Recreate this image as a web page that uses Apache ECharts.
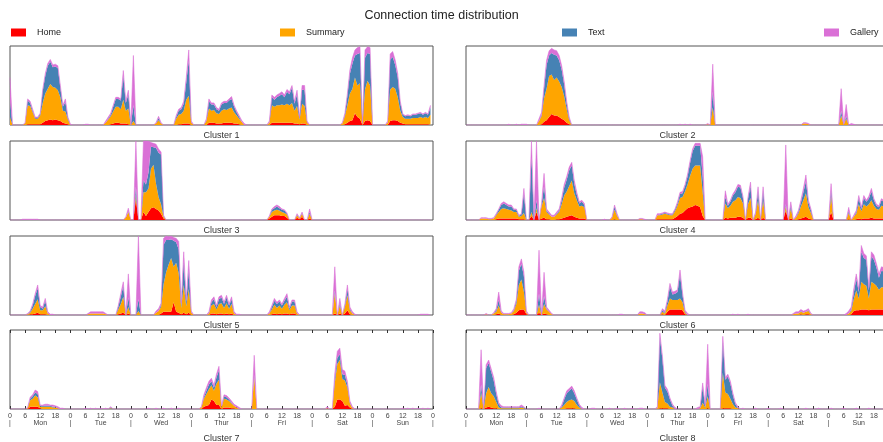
<!DOCTYPE html>
<html>
<head>
<meta charset="utf-8">
<title>Connection time distribution</title>
<script src="https://cdn.jsdelivr.net/npm/echarts/dist/echarts.min.js"></script>
<style>
  html, body { margin: 0; padding: 0; background: #fff; }
  #chart { width: 883px; height: 442px; }
</style>
</head>
<body>
<div id="chart"></div>
<script>
// one value per hour of the week (Mon 0h .. Sun 23h), 0-100 = share of panel height
var QUIET = [0,0,0,0,0,0, 0,0,0,0,0,0, 0,0,0,0,0,0, 0,0,0,0,0,0];

var days = ['Mon', 'Tue', 'Wed', 'Thur', 'Fri', 'Sat', 'Sun'];
var hourLabels = ['0', '6', '12', '18'];
var seriesNames = ['Home', 'Summary', 'Text', 'Gallery'];
var seriesColors = ['#ff0000', '#ffa500', '#4682b4', '#da70d6'];
var clusterNames = ['Cluster 1', 'Cluster 2', 'Cluster 3', 'Cluster 4', 'Cluster 5', 'Cluster 6', 'Cluster 7', 'Cluster 8'];

// ---- Cluster 1
var c1Home = [
  0,0,0,0,0,0, 0,1,1,1,1,1, 1,3,5,6,7,6, 7,6,5,3,2,1,
  0,0,0,0,0,0, 0,0,0,0,0,0, 0,0,0,0,1,2, 3,3,2,2,2,1,
  0,0,0,0,0,0, 0,0,0,0,0,0, 0,0,0,0,0,0, 0,1,1,2,2,2,
  0,0,0,0,0,0, 0,3,3,3,2,2, 2,3,3,3,3,2, 2,1,0,0,0,0,
  0,0,0,0,0,0, 0,0,3,3,3,3, 3,3,3,3,3,2, 2,1,2,2,0,0,
  0,0,0,0,0,0, 0,0,0,0,0,0, 0,1,3,5,6,15, 10,8,0,5,6,5,
  0,0,0,0,0,0, 0,5,6,6,5,3, 2,1,1,1,1,1, 1,1,1,1,1,1
];
var c1Summary = [
  10,0,0,0,0,0, 2,24,23,15,7,7, 11,25,35,40,45,42, 40,38,30,15,15,6,
  0,0,0,0,0,0, 0,0,0,0,0,0, 0,0,3,7,10,15, 20,20,18,30,16,20,
  0,5,0,0,0,0, 0,0,0,0,2,6, 2,0,0,0,0,0, 8,12,13,16,30,35,
  3,0,0,0,0,0, 5,18,15,16,13,12, 16,17,16,18,19,14, 10,7,4,0,0,0,
  0,0,0,0,0,0, 0,3,22,20,22,22, 23,22,24,22,25,16, 22,6,25,22,3,0,
  0,0,0,0,0,0, 0,0,0,0,0,0, 2,10,22,35,40,45, 40,45,1,40,50,45,
  0,0,0,0,0,0, 3,40,42,40,30,15, 8,7,7,7,8,8, 8,9,8,9,8,12
];
var c1Text = [
  20,0,0,0,0,0, 0,6,4,2,1,1, 2,15,22,29,28,25, 27,28,12,5,12,2,
  0,0,0,0,0,0, 0,0,0,0,0,0, 0,0,0,1,2,6, 10,10,11,30,10,18,
  0,20,0,0,0,0, 0,0,0,0,0,3, 0,0,0,0,0,0, 2,5,6,9,22,45,
  0,0,0,0,0,0, 1,9,8,7,5,4, 8,8,9,10,11,7, 4,2,0,0,0,0,
  0,0,0,0,0,0, 0,0,10,9,10,12, 13,10,15,14,19,9, 15,2,18,20,0,0,
  0,0,0,0,0,0, 0,0,0,0,0,0, 0,2,12,25,32,28, 40,38,0,40,35,40,
  0,0,0,0,0,0, 0,38,38,30,25,10, 3,3,4,3,4,4, 5,5,4,5,4,9
];
var c1Gallery = [
  30,0,0,0,0,0, 1,2,2,2,1,1, 1,2,3,3,3,3, 3,3,3,2,4,1,
  1,0,0,0,0,0, 1,1,0,0,0,0, 0,0,2,2,2,2, 2,2,2,7,2,5,
  0,63,0,0,0,0, 0,0,0,0,1,2, 1,0,0,0,0,0, 2,2,2,3,6,13,
  2,0,0,0,0,0, 2,3,2,2,2,2, 2,2,2,2,3,2, 2,2,2,2,0,0,
  0,0,0,0,0,0, 0,2,3,3,3,3, 3,3,3,3,3,3, 5,1,5,6,2,0,
  0,0,0,0,0,0, 0,0,0,0,0,0, 1,2,3,5,7,7, 8,8,1,10,8,8,
  0,0,0,0,0,0, 2,7,7,6,5,2, 1,1,1,1,1,1, 1,1,1,1,1,3
];

// ---- Cluster 2
var c2Home = [
  ...QUIET,
  0,0,0,0,0,0, 1,4,6,10,14,12, 12,10,8,6,3,1, 0,0,0,0,0,0,
  ...QUIET, ...QUIET, ...QUIET, ...QUIET, ...QUIET
];
var c2Summary = [
  ...QUIET,
  0,0,0,0,0,5, 10,30,40,52,50,45, 48,45,40,30,17,5, 0,0,0,0,0,0,
  ...QUIET, ...QUIET,
  1,0,22,0,0,0, 0,0,0,0,0,0, 0,0,0,0,0,0, 0,0,0,0,0,0,
  0,0,0,0,0,0, 0,0,0,0,0,0, 0,0,2,2,1,0, 0,0,0,0,0,0,
  0,0,0,0,0,12, 0,8,0,0,0,0, 0,0,0,0,0,0, 0,0,0,0,0,0
];
var c2Text = [
  ...QUIET,
  0,0,0,0,0,0, 2,12,30,26,27,32, 28,27,22,15,7,2, 0,0,0,0,0,0,
  ...QUIET, ...QUIET,
  0,0,20,0,0,0, 0,0,0,0,0,0, 0,0,0,0,0,0, 0,0,0,0,0,0,
  ...QUIET,
  0,0,0,0,0,6, 0,3,0,0,0,0, 0,0,0,0,0,0, 0,0,0,0,0,0
];
var c2Gallery = [
  0,0,0,0,0,0, 0,0,0,0,0,0, 0,0,0,0,0,1, 0,0,1,0,1,1,
  1,0,0,0,0,3, 3,4,6,6,6,6, 6,6,5,4,3,2, 0,0,0,0,0,0,
  ...QUIET,
  0,0,0,0,0,0, 0,0,0,0,0,0, 0,1,0,1,0,1, 0,0,0,0,0,0,
  1,0,35,0,0,0, 0,0,0,0,0,0, 0,0,0,0,0,0, 0,0,0,0,0,0,
  0,0,0,0,0,0, 0,0,0,0,0,0, 0,0,1,1,1,0, 0,0,0,0,0,0,
  0,0,0,0,0,28, 1,15,0,2,1,0, 0,0,0,0,0,0, 0,0,0,0,0,0
];

// ---- Cluster 3
var c3Home = [
  ...QUIET, ...QUIET,
  0,0,27,0,0,10, 5,10,15,16,14,12, 8,2,0,0,0,0, 0,0,0,0,0,0,
  ...QUIET,
  0,0,0,0,0,0, 0,2,4,6,6,6, 5,5,3,0,0,0, 3,1,4,0,0,2,
  ...QUIET, ...QUIET
];
var c3Summary = [
  ...QUIET,
  0,0,0,0,0,0, 0,0,0,0,0,0, 0,0,0,0,0,0, 0,0,0,0,3,10,
  0,0,5,0,0,25, 30,30,50,54,32,17, 12,2,0,0,0,0, 0,0,0,0,0,0,
  ...QUIET,
  0,0,0,0,0,0, 0,2,6,6,7,6, 5,4,4,0,0,0, 3,1,4,0,0,6,
  ...QUIET, ...QUIET
];
var c3Text = [
  ...QUIET,
  0,0,0,0,0,0, 0,0,0,0,0,0, 0,0,0,0,0,0, 0,0,0,0,0,1,
  0,0,10,0,0,15, 10,20,28,22,45,56, 63,1,0,0,0,0, 0,0,0,0,0,0,
  ...QUIET,
  0,0,0,0,0,0, 0,0,3,3,4,3, 3,3,1,0,0,0, 1,0,1,0,0,2,
  ...QUIET, ...QUIET
];
var c3Gallery = [
  0,0,0,0,0,1, 1,1,1,1,1,1, 0,0,0,0,0,0, 0,0,0,0,0,0,
  0,0,0,0,0,0, 0,0,0,0,0,0, 0,0,0,0,0,0, 0,0,0,0,1,4,
  0,0,58,0,0,50, 55,40,5,5,5,5, 3,1,0,0,0,0, 0,0,0,0,0,0,
  ...QUIET,
  0,0,0,0,0,0, 0,1,1,2,2,2, 1,1,1,0,0,0, 1,1,1,0,0,4,
  ...QUIET, ...QUIET
];

// ---- Cluster 4
var c4Home = [
  0,0,0,0,0,0, 0,0,0,0,0,0, 1,2,2,2,2,2, 2,2,2,1,1,1,
  0,0,5,0,10,0, 2,3,1,1,0,0, 1,1,2,3,4,5, 6,4,3,2,2,2,
  0,0,0,0,0,0, 0,0,0,0,0,1, 0,0,0,0,0,0, 0,0,0,0,0,0,
  0,0,0,0,1,1, 1,1,1,1,1,3, 5,8,9,12,15,16, 17,19,18,16,5,0,
  0,0,0,0,0,0, 0,3,2,3,3,3, 4,4,3,0,3,3, 0,1,3,0,3,0,
  0,0,0,0,0,0, 0,12,0,2,0,0, 1,2,3,4,2,1, 0,0,0,0,0,0,
  0,10,0,0,0,0, 0,0,1,0,0,1, 2,1,2,2,2,3, 2,2,2,2,2,2
];
var c4Summary = [
  0,0,0,0,0,0, 2,2,2,1,1,2, 5,8,12,13,12,11, 10,8,8,3,4,8,
  0,0,5,0,5,0, 15,25,9,6,4,4, 6,9,18,28,32,38, 44,30,22,15,16,14,
  0,0,0,0,0,0, 0,0,0,0,3,12, 5,0,0,0,0,0, 0,0,0,1,1,0,
  0,0,0,0,5,5, 6,7,6,5,5,8, 13,20,20,24,30,40, 48,50,51,53,30,0,
  0,0,0,0,0,0, 0,18,13,15,20,22, 25,24,18,0,17,25, 0,6,22,0,22,0,
  0,0,0,0,0,0, 0,5,0,12,0,3, 7,15,22,30,14,8, 0,0,0,0,0,0,
  0,20,0,0,0,0, 0,0,8,0,4,7, 18,10,18,15,18,22, 16,12,11,16,15,12
];
var c4Text = [
  0,0,0,0,0,0, 0,0,0,0,0,0, 1,3,5,6,5,4, 5,3,3,1,2,25,
  0,0,70,0,10,0, 2,15,2,1,0,0, 1,2,5,10,15,20, 19,12,7,4,5,3,
  0,0,0,0,0,0, 0,0,0,0,0,4, 1,0,0,0,0,0, 0,0,0,0,0,0,
  0,0,0,0,0,1, 1,1,1,1,1,2, 3,5,5,7,10,16, 22,25,25,25,20,0,
  0,0,0,0,0,0, 0,8,3,5,8,10, 13,13,7,0,7,15, 0,1,12,0,12,0,
  0,0,0,0,0,0, 0,3,0,4,0,0, 2,5,10,15,6,3, 0,0,0,0,0,0,
  0,8,0,0,0,0, 0,0,2,0,0,2, 8,3,8,6,7,11, 7,4,3,7,6,4
];
var c4Gallery = [
  0,0,0,0,0,0, 1,1,1,1,1,1, 1,1,2,2,2,2, 2,1,1,1,1,6,
  0,0,20,0,75,0, 2,16,2,2,2,2, 2,2,3,4,4,4, 4,4,3,2,2,2,
  0,0,0,0,0,0, 0,1,0,0,1,2, 2,0,0,0,0,0, 0,0,0,1,1,1,
  0,0,0,0,2,1, 1,1,1,1,1,1, 2,2,2,2,3,3, 3,3,3,3,25,0,
  0,0,0,0,0,0, 0,8,2,2,2,3, 3,3,2,0,2,5, 0,2,5,0,5,0,
  0,0,0,0,0,0, 0,75,0,5,0,2, 2,3,5,8,3,2, 0,0,0,0,0,0,
  0,8,0,0,0,0, 0,0,5,0,2,2, 3,2,3,2,3,4, 2,2,2,2,2,2
];

// ---- Cluster 5
var c5Home = [
  0,0,0,0,0,0, 0,0,1,1,2,3, 1,1,1,0,0,0, 0,0,0,0,0,0,
  0,0,0,0,0,0, 0,0,0,0,0,0, 0,0,0,0,0,0, 0,1,2,3,0,2,
  0,0,0,0,0,0, 0,0,0,0,0,0, 2,4,4,4,4,16, 4,3,1,3,1,3,
  0,0,0,0,0,0, 0,0,2,2,1,2, 2,1,2,1,2,0, 0,0,0,0,0,0,
  0,0,0,0,0,0, 0,0,1,2,1,2, 1,2,2,1,2,2, 0,0,0,0,0,0,
  0,0,0,0,0,0, 0,0,0,2,0,2, 0,2,6,1,0,0, 0,0,0,0,0,0,
  ...QUIET
];
var c5Summary = [
  0,0,0,0,0,0, 0,1,2,7,12,17, 5,5,10,2,0,0, 0,0,0,0,0,0,
  0,0,0,0,0,0, 0,1,2,2,2,2, 2,2,1,0,0,0, 0,6,12,20,0,8,
  0,0,0,5,0,0, 0,0,0,0,3,5, 8,35,50,60,68,45, 62,50,8,35,10,30,
  3,0,0,0,0,0, 0,2,10,12,6,12, 13,8,13,7,12,2, 0,0,0,0,0,0,
  0,0,0,0,0,0, 0,2,6,11,8,10, 7,11,14,5,10,10, 2,0,0,0,0,0,
  0,0,0,0,0,0, 0,0,0,25,0,10, 0,8,19,5,2,0, 0,0,0,0,0,0,
  ...QUIET
];
var c5Text = [
  0,0,0,0,0,0, 0,0,1,4,10,14, 4,2,7,0,0,0, 0,0,0,0,0,0,
  0,0,0,0,0,0, 0,0,0,0,0,0, 0,0,0,0,0,0, 0,3,9,14,0,12,
  0,0,0,15,0,0, 0,0,0,0,0,0, 3,50,41,31,24,33, 26,30,3,30,5,24,
  0,0,0,0,0,0, 0,0,4,6,3,6, 7,5,7,4,6,0, 0,0,0,0,0,0,
  0,0,0,0,0,0, 0,0,3,5,5,5, 4,5,7,2,5,5, 0,0,0,0,0,0,
  0,0,0,0,0,0, 0,0,0,4,0,3, 0,2,8,2,0,0, 0,0,0,0,0,0,
  ...QUIET
];
var c5Gallery = [
  0,0,0,0,0,0, 0,1,1,2,3,4, 2,2,3,2,1,1, 0,0,0,0,0,0,
  0,0,0,0,0,0, 0,1,2,2,2,2, 2,2,1,0,0,0, 0,2,4,5,0,30,
  0,0,0,80,0,0, 0,0,0,0,2,3, 2,8,5,4,4,4, 5,10,3,12,4,12,
  2,0,0,0,0,0, 0,2,3,3,2,3, 3,2,3,2,3,2, 1,1,0,0,0,0,
  0,0,0,0,0,0, 0,2,2,3,2,2, 2,3,4,2,2,2, 2,0,0,0,0,0,
  0,0,0,0,0,0, 0,0,0,30,0,6, 0,2,5,2,2,1, 0,0,0,0,0,0,
  0,0,0,0,0,0, 0,0,0,0,0,0, 0,0,0,0,0,0, 0,1,1,1,1,0
];

// ---- Cluster 6
var c6Home = [
  0,0,0,0,0,0, 0,0,0,0,0,0, 1,2,0,0,0,0, 0,1,3,6,7,7,
  1,0,0,0,0,3, 0,2,1,0,0,0, 0,0,0,0,0,0, 0,0,0,0,0,0,
  ...QUIET,
  0,0,0,0,0,0, 1,0,4,7,7,7, 7,7,6,1,0,0, 0,0,0,0,0,0,
  ...QUIET,
  0,0,0,0,0,0, 0,0,0,0,0,0, 0,1,0,1,1,0, 0,0,0,0,0,0,
  0,0,0,0,0,0, 0,0,0,1,5,6, 6,7,7,7,6,7, 7,7,7,7,7,7
];
var c6Summary = [
  0,0,0,0,0,0, 0,0,1,0,0,2, 3,10,3,1,1,1, 2,4,11,32,38,22,
  2,0,0,0,0,10, 0,12,6,4,1,0, 0,0,0,0,0,0, 0,0,0,0,0,0,
  0,0,0,0,0,0, 0,0,0,0,0,0, 0,0,0,0,0,0, 0,0,0,2,2,1,
  0,0,0,0,0,0, 3,2,8,14,12,12, 12,14,10,2,0,0, 0,0,0,0,0,0,
  ...QUIET,
  0,0,0,0,0,0, 0,0,0,0,1,2, 2,3,3,3,4,1, 0,0,0,0,0,0,
  0,0,0,0,0,0, 0,0,2,4,15,25, 15,35,32,30,15,35, 33,30,25,28,28,25
];
var c6Text = [
  0,0,0,0,0,0, 0,0,0,0,0,0, 2,7,0,0,0,0, 0,1,4,18,20,20,
  0,0,0,0,0,14, 0,10,1,0,0,0, 0,0,0,0,0,0, 0,0,0,0,0,0,
  ...QUIET,
  0,0,0,0,0,0, 2,1,5,15,7,8, 10,30,9,1,0,0, 0,0,0,0,0,0,
  ...QUIET,
  0,0,0,0,0,0, 0,0,0,0,0,0, 0,1,0,0,1,0, 0,0,0,0,0,0,
  0,0,0,0,0,0, 0,0,0,2,8,15, 8,38,33,33,10,32, 30,23,15,21,20,18
];
var c6Gallery = [
  0,0,0,0,0,0, 0,0,1,0,0,1, 2,10,2,1,1,1, 1,2,2,5,6,5,
  2,0,0,0,0,55, 0,30,2,2,1,0, 0,0,0,0,0,0, 0,0,0,0,0,0,
  0,0,0,0,0,0, 0,0,0,0,0,0, 0,1,1,0,0,0, 0,0,0,2,2,2,
  0,0,0,0,0,0, 2,2,3,4,3,3, 3,6,3,2,2,0, 0,0,0,0,0,0,
  0,0,0,0,0,0, 0,0,0,0,1,0, 1,0,0,0,1,0, 0,0,0,0,0,0,
  0,0,0,0,0,0, 0,0,0,0,1,2, 2,2,2,2,2,1, 0,0,0,0,0,0,
  0,0,0,0,0,0, 0,2,3,3,5,6, 4,8,6,5,4,6, 6,5,5,5,5,5
];

// ---- Cluster 7
var c7Home = [
  0,0,0,0,0,0, 0,0,3,3,3,3, 1,0,0,0,0,0, 0,0,0,0,0,0,
  ...QUIET, ...QUIET,
  0,0,0,0,0,3, 4,5,12,10,5,5, 0,2,2,2,1,1, 0,0,0,0,0,0,
  ...QUIET,
  0,0,0,0,0,0, 0,0,0,3,12,12, 10,4,5,2,0,0, 0,0,0,0,0,0,
  ...QUIET
];
var c7Summary = [
  0,0,0,0,0,0, 0,1,8,10,14,12, 2,3,3,3,3,2, 2,1,0,0,0,0,
  0,0,0,0,0,0, 0,0,0,0,0,0, 0,0,0,0,1,0, 0,0,0,0,0,0,
  ...QUIET,
  0,0,0,0,2,10, 15,20,18,13,27,32, 2,11,10,8,6,3, 2,0,0,0,0,0,
  0,40,0,0,0,0, 0,0,0,0,0,0, 0,0,0,0,0,0, 0,0,0,0,0,0,
  0,0,0,0,0,0, 1,0,0,30,45,50, 28,32,22,5,1,0, 0,0,0,0,0,0,
  ...QUIET
];
var c7Text = [
  0,0,0,0,0,0, 0,0,2,3,4,4, 1,1,1,1,1,1, 1,0,0,0,0,0,
  0,0,0,0,0,0, 0,0,0,0,0,0, 0,0,0,0,1,0, 0,0,0,0,0,0,
  ...QUIET,
  0,0,0,0,0,2, 4,6,5,4,8,12, 0,3,3,2,1,0, 0,0,0,0,0,0,
  0,3,0,0,0,0, 0,0,0,0,0,0, 0,0,0,0,0,0, 0,0,0,0,0,0,
  0,0,0,0,0,0, 0,0,0,5,8,7, 6,7,4,1,0,0, 0,0,0,0,0,0,
  ...QUIET
];
var c7Gallery = [
  0,0,0,0,0,0, 0,1,2,2,3,3, 1,1,2,2,1,2, 1,2,1,1,0,0,
  0,0,0,0,0,0, 1,0,1,0,1,0, 1,0,1,0,1,0, 0,0,0,0,0,0,
  0,0,0,0,0,0, 0,1,0,0,1,0, 0,1,0,0,1,0, 0,1,0,0,0,0,
  0,0,0,0,1,3, 4,4,4,3,4,5, 2,2,2,2,2,2, 2,2,0,0,0,0,
  0,25,0,0,0,0, 0,0,0,0,0,0, 0,0,0,0,0,0, 0,0,0,0,0,0,
  0,0,0,0,0,0, 2,0,0,7,8,8, 6,5,4,2,2,0, 0,0,0,0,0,0,
  0,0,0,0,0,0, 0,0,0,0,0,0, 1,0,1,0,1,0, 1,0,1,0,1,0
];

// ---- Cluster 8
var c8Home = [
  0,0,0,0,0,0, 1,0,2,3,2,1, 1,0,0,0,0,0, 0,0,0,0,0,0,
  0,0,0,0,0,0, 0,0,0,0,0,0, 0,0,0,0,1,1, 1,1,0,0,0,0,
  ...QUIET,
  0,0,0,0,0,1, 1,1,1,0,0,0, 0,0,0,0,0,0, 0,0,0,0,0,0,
  1,0,0,0,0,0, 1,1,1,1,0,0, 0,0,0,0,0,0, 0,0,0,0,0,0,
  ...QUIET, ...QUIET
];
var c8Summary = [
  0,0,0,0,0,0, 20,0,18,25,18,15, 8,2,1,1,1,1, 1,1,1,1,2,1,
  0,0,0,0,0,0, 0,0,0,0,0,0, 0,0,2,5,8,10, 11,9,5,2,0,0,
  ...QUIET,
  0,0,0,0,1,33, 20,8,6,3,2,0, 0,0,0,0,0,0, 0,0,0,1,8,2,
  15,0,0,0,0,0, 45,20,18,12,6,2, 1,0,0,0,0,0, 0,0,0,0,0,0,
  ...QUIET, ...QUIET
];
var c8Text = [
  0,0,0,0,0,0, 10,0,32,30,27,20, 10,4,1,1,1,1, 1,1,1,1,1,1,
  0,0,0,0,0,0, 0,0,0,0,0,0, 0,0,1,7,11,12, 14,10,7,2,0,0,
  ...QUIET,
  0,0,0,0,0,57, 42,18,15,9,2,0, 0,0,0,0,0,0, 0,0,0,0,20,1,
  16,0,0,0,0,0, 40,16,22,19,11,4, 0,0,0,0,0,0, 0,0,0,0,0,0,
  ...QUIET, ...QUIET
];
var c8Gallery = [
  0,0,0,0,0,0, 44,0,4,4,4,4, 3,2,2,1,1,1, 1,1,1,1,2,1,
  0,0,0,0,0,1, 0,0,0,0,0,0, 0,0,2,2,3,3, 3,3,2,2,2,0,
  0,0,1,1,0,0, 0,0,0,1,0,0, 1,0,0,1,0,0, 1,0,0,1,1,0,
  0,0,0,0,2,5, 4,3,3,2,2,2, 0,0,0,0,0,0, 0,0,2,2,5,2,
  50,0,0,0,0,0, 6,3,3,3,3,2, 2,0,1,0,0,0, 0,1,0,0,0,0,
  1,0,0,0,0,1, 0,0,0,0,0,0, 0,0,0,1,0,0, 0,0,1,0,0,0,
  0,1,0,0,0,0, 1,0,0,0,0,1, 0,0,0,0,1,0, 0,0,0,0,0,0
];

var clusters = [
  [c1Home, c1Summary, c1Text, c1Gallery],
  [c2Home, c2Summary, c2Text, c2Gallery],
  [c3Home, c3Summary, c3Text, c3Gallery],
  [c4Home, c4Summary, c4Text, c4Gallery],
  [c5Home, c5Summary, c5Text, c5Gallery],
  [c6Home, c6Summary, c6Text, c6Gallery],
  [c7Home, c7Summary, c7Text, c7Gallery],
  [c8Home, c8Summary, c8Text, c8Gallery]
];

// layout of the 4x2 panel grid (right column runs past the window edge)
var rowTops = [46, 141, 236, 330];
var colLefts = [10, 466];
var panelW = 423, panelH = 79;

var hourCats = [];
for (var i = 0; i <= 168; i++) hourCats.push(String(i));

function everySix(index) { return index % 6 === 0; }

var grids = [], xAxes = [], yAxes = [], series = [], labels = [];
var topAxes = [];

for (var k = 0; k < 8; k++) {
  var row = Math.floor(k / 2), col = k % 2;
  var bottomRow = row === 3;
  grids.push({
    left: colLefts[col], top: rowTops[row], width: panelW, height: panelH,
    outerBoundsMode: 'none', containLabel: false,
    show: true, borderColor: '#555', borderWidth: 1, backgroundColor: 'transparent'
  });
  xAxes.push({
    type: 'category', gridIndex: k, data: hourCats, boundaryGap: false,
    axisLine: { show: false },
    splitLine: { show: false },
    axisTick: bottomRow ? { show: true, inside: true, length: 3, interval: everySix, lineStyle: { color: '#333' } } : { show: false },
    axisLabel: bottomRow ? {
      show: true, interval: everySix, margin: 4,
      fontSize: 7, lineHeight: 7, color: '#444',
      formatter: function (value, index) {
        var h = index % 24;
        var d = Math.floor(index / 24);
        var second = h === 0 ? '|' : (h === 12 ? days[d] : '');
        return hourLabels[h / 6] + '\n' + second;
      }
    } : { show: false }
  });
  if (bottomRow) {
    topAxes.push({
      type: 'category', gridIndex: k, data: hourCats, boundaryGap: false, position: 'top',
      axisLine: { show: false }, splitLine: { show: false }, axisLabel: { show: false },
      axisTick: { show: true, inside: true, length: 3, interval: everySix, lineStyle: { color: '#333' } }
    });
  }
  yAxes.push({ type: 'value', gridIndex: k, min: 0, max: 100, show: false });

  for (var s = 0; s < 4; s++) {
    series.push({
      name: seriesNames[s], type: 'line', stack: 'c' + k,
      xAxisIndex: k, yAxisIndex: k,
      data: clusters[k][s],
      symbol: 'none', silent: true,
      color: seriesColors[s],
      lineStyle: s === 3 ? { width: 0.8, color: seriesColors[s], opacity: 0.7 } : { width: 0 },
      areaStyle: { color: seriesColors[s], opacity: 1 }
    });
  }

  labels.push({
    type: 'text',
    x: colLefts[col] + panelW / 2,
    y: bottomRow ? 439 : rowTops[row] + panelH + 11,
    style: { text: clusterNames[k], align: 'center', verticalAlign: 'middle', fontSize: 9, fill: '#333', fontFamily: 'Liberation Sans' }
  });
}

var legendBase = {
  icon: 'rect', itemWidth: 15, itemHeight: 8, top: 28, padding: 0,
  itemStyle: { borderWidth: 0 },
  textStyle: { fontSize: 9, color: '#222', padding: [0, 0, 0, 6] }
};

var chart = echarts.init(document.getElementById('chart'));
chart.setOption({
  animation: false,
  textStyle: { fontFamily: 'Liberation Sans' },
  title: {
    text: 'Connection time distribution', left: 'center', top: 4,
    textStyle: { fontSize: 12.5, fontWeight: 'normal', color: '#222' }
  },
  legend: [
    Object.assign({}, legendBase, { data: ['Home'], left: 11 }),
    Object.assign({}, legendBase, { data: ['Summary'], left: 280 }),
    Object.assign({}, legendBase, { data: ['Text'], left: 562 }),
    Object.assign({}, legendBase, { data: ['Gallery'], left: 824 })
  ],
  grid: grids,
  xAxis: xAxes.concat(topAxes),
  yAxis: yAxes,
  series: series,
  graphic: labels
});
</script>
</body>
</html>
